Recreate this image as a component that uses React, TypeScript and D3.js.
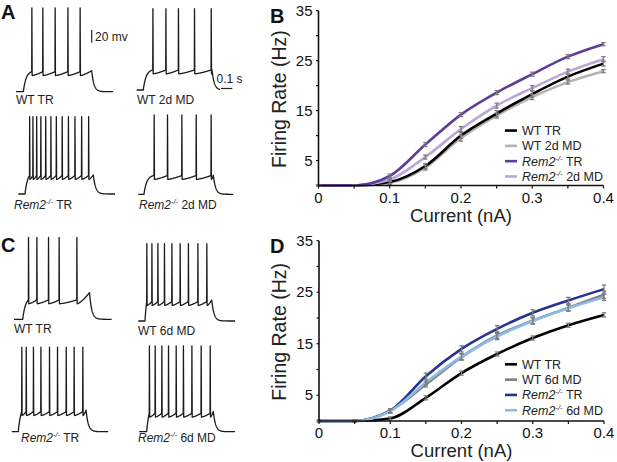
import * as d3 from "d3";
import React from "react";

const FONT = "'Liberation Sans', Arial, Helvetica, sans-serif";

// ---- F-I curves (panels B, D) ----
const currents = [0, 0.05, 0.1, 0.15, 0.2, 0.25, 0.3, 0.35, 0.4];
const xTickLabels = [0, 0.1, 0.2, 0.3, 0.4];
const xTickMarks = [0, 0.05, 0.1, 0.15, 0.2, 0.25, 0.3, 0.35, 0.4];
const yTickLabels = [5, 15, 25, 35];
const yTickMarks = [5, 10, 15, 20, 25, 30, 35];

const bWtTr = [0, 0, 0.7, 3.9, 10.0, 14.4, 18.3, 21.8, 24.4];
const bWt2d = [0, 0, 0.5, 3.6, 9.5, 14.0, 17.7, 20.7, 22.9];
const bRemTr = [0, 0, 1.9, 8.2, 14.2, 18.6, 22.3, 25.8, 28.3];
const bRem2d = [0, 0, 1.2, 5.7, 11.3, 16.0, 19.5, 22.8, 25.3];
const bWtTrSem = [0.1, 0.1, 0.4, 0.5, 0.6, 0.6, 0.6, 0.5, 0.5];
const bWt2dSem = [0.1, 0.1, 0.3, 0.5, 0.6, 0.5, 0.5, 0.4, 0.3];
const bRemTrSem = [0.1, 0.1, 0.4, 0.4, 0.4, 0.4, 0.4, 0.4, 0.3];
const bRem2dSem = [0.1, 0.1, 0.3, 0.4, 0.5, 0.5, 0.5, 0.5, 0.5];

const dWtTr = [0, 0, 0.5, 4.5, 9.3, 13.0, 16.1, 18.6, 20.6];
const dWt6d = [0, 0, 2.0, 7.1, 12.4, 16.6, 19.5, 22.0, 24.5];
const dRemTr = [0, 0, 2.0, 8.7, 14.0, 17.9, 21.0, 23.4, 25.6];
const dRem6d = [0, 0, 1.9, 7.5, 12.5, 16.4, 19.4, 21.9, 24.0];
const dWtTrSem = [0.1, 0.1, 0.3, 0.4, 0.4, 0.4, 0.4, 0.4, 0.4];
const dWt6dSem = [0.1, 0.1, 0.4, 0.5, 0.6, 0.6, 0.6, 0.6, 0.7];
const dRemTrSem = [0.1, 0.1, 0.4, 0.6, 0.6, 0.6, 0.6, 0.6, 0.8];
const dRem6dSem = [0.1, 0.1, 0.4, 0.5, 0.6, 0.6, 0.6, 0.6, 0.6];

// ---- voltage traces (panels A, C): times in ms, voltages in mV ----
type Trace = {
  on: number; off: number; end: number;
  spikes: number[]; thr: number; peak: number; endV: number;
};
const BASE_MV = -70;

const aWtTrSpikes = [139, 236, 345, 458, 566];
const aWt2dSpikes = [142, 257, 368, 510, 658];
const aRemTrSpikes = [99, 128, 161, 198, 241, 287, 335, 387, 442, 500, 559, 621];
const aRem2dSpikes = [139, 257, 384, 511, 643];
const cWtTrSpikes = [127, 201, 304, 398, 555];
const cWt6dSpikes = [74, 119, 172, 230, 296, 369, 442, 526, 605];
const cRemTrSpikes = [88, 127, 191, 257, 333, 404, 481, 551, 628];
const cRem6dSpikes = [88, 139, 198, 257, 325, 389, 464, 546, 626];

const aTraces: Trace[] = [
  { on: 65, off: 670, end: 858, spikes: aWtTrSpikes, thr: -38.5, peak: 62, endV: -37 },
  { on: 58, off: 666, end: 738, spikes: aWt2dSpikes, thr: -38.5, peak: 58, endV: -38 },
  { on: 59, off: 664, end: 856, spikes: aRemTrSpikes, thr: -41, peak: 52, endV: -40 },
  { on: 50, off: 664, end: 841, spikes: aRem2dSpikes, thr: -40.5, peak: 55, endV: -40 },
];
const cTraces: Trace[] = [
  { on: 77, off: 668, end: 865, spikes: cWtTrSpikes, thr: -39.5, peak: 59, endV: -28 },
  { on: 59, off: 650, end: 856, spikes: cWt6dSpikes, thr: -39.5, peak: 52, endV: -37 },
  { on: 58, off: 658, end: 855, spikes: cRemTrSpikes, thr: -38.5, peak: 63, endV: -36 },
  { on: 65, off: 655, end: 847, spikes: cRem6dSpikes, thr: -41, peak: 65, endV: -38 },
];
// where each trace sits (left edge, baseline)
const aPlace = [[16, 91.7], [136.7, 90], [18.3, 194], [138.3, 194.3]];
const cPlace = [[14, 319.3], [138.3, 321], [11.7, 431.7], [139.3, 431.7]];
const PX_PER_MS = 0.113;
const PX_PER_MV = 0.635;

function tracePoints(tr: Trace): [number, number][] {
  const pts: [number, number][] = [[0, BASE_MV], [tr.on, BASE_MV]];
  const dt = 2;
  const tauR = 25;
  const tauD = 20;
  const trough = tr.thr - 6;
  const s0 = tr.spikes[0];
  const norm = 1 - Math.exp(-(s0 - tr.on) / tauR);
  for (let t = tr.on + dt; t < s0; t += dt) {
    pts.push([t, BASE_MV + ((tr.thr - BASE_MV) * (1 - Math.exp(-(t - tr.on) / tauR))) / norm]);
  }
  let vOff = tr.endV;
  tr.spikes.forEach((s, i) => {
    const last = i === tr.spikes.length - 1;
    const next = last ? tr.off : tr.spikes[i + 1];
    const target = last ? tr.endV : tr.thr;
    pts.push([s, tr.thr], [s + 1.5, tr.peak], [s + 4, trough]);
    for (let t = s + 4 + dt; t < next; t += dt) {
      const u = (t - s - 4) / (next - s - 4);
      pts.push([t, trough + (target - trough) * Math.pow(u, 1.4)]);
    }
    if (last) pts.push([tr.off, target]);
    vOff = target;
  });
  for (let t = tr.off + dt; t <= tr.end; t += dt) {
    pts.push([t, BASE_MV + (vOff - BASE_MV) * Math.exp(-(t - tr.off) / tauD)]);
  }
  return pts;
}

function TracePath({ tr, x0, y0 }: { tr: Trace; x0: number; y0: number }) {
  const x = d3.scaleLinear().domain([0, 1]).range([x0, x0 + PX_PER_MS]);
  const y = d3.scaleLinear().domain([BASE_MV, BASE_MV + 1]).range([y0, y0 - PX_PER_MV]);
  const line = d3.line<[number, number]>().x((d) => x(d[0])).y((d) => y(d[1]));
  return <path d={line(tracePoints(tr)) ?? ""} fill="none" stroke="#1a1a1a" strokeWidth={1.3} strokeLinejoin="round" />;
}

function RemLabel({ x, y, suffix, size = 12 }: { x: number; y: number; suffix: string; size?: number }) {
  return (
    <text x={x} y={y} fontSize={size} fontFamily={FONT} fill="#222">
      <tspan fontStyle="italic">Rem2</tspan>
      <tspan fontStyle="italic" fontSize={size * 0.62} dy={-size * 0.4}>-/-</tspan>
      <tspan dy={size * 0.4}>{" " + suffix}</tspan>
    </text>
  );
}

type Series = { values: number[]; sem: number[]; color: string; label: string; rem: boolean };

function FIChart({ top, bottom, left, right, series, legend, letter, letterY }: {
  top: number; bottom: number; left: number; right: number;
  series: Series[]; legend: Series[]; letter: string; letterY: number;
}) {
  const x = d3.scaleLinear().domain([0, 0.4]).range([left, right]);
  const y = d3.scaleLinear().domain([0, 35]).range([bottom, top]);
  const line = d3
    .line<number>()
    .x((_, i) => x(currents[i]))
    .y((d) => y(d))
    .curve(d3.curveMonotoneX);
  const legendX = 505;
  const legendY0 = y(11.0);
  const legendStep = 15.3;
  return (
    <g fontFamily={FONT}>
      <text x={270} y={letterY} fontSize={20} fontWeight="bold" fill="#111">
        {letter}
      </text>
      {series.map((s) => (
        <path key={s.label + s.color} d={line(s.values) ?? ""} fill="none" stroke={s.color} strokeWidth={2.6} />
      ))}
      {series.map((s) =>
        s.values.map((v, i) => {
          const cx = x(currents[i]);
          const e = Math.max(s.sem[i], 0.15);
          return (
            <g key={s.color + i} stroke="#7d7d7d" strokeWidth={1.3}>
              <line x1={cx} x2={cx} y1={y(v - e)} y2={y(v + e)} />
              <line x1={cx - 2.2} x2={cx + 2.2} y1={y(v - e)} y2={y(v - e)} />
              <line x1={cx - 2.2} x2={cx + 2.2} y1={y(v + e)} y2={y(v + e)} />
            </g>
          );
        })
      )}
      <line x1={left} x2={left} y1={top} y2={bottom} stroke="#111" strokeWidth={1.6} />
      <line x1={left} x2={right} y1={bottom} y2={bottom} stroke="#111" strokeWidth={1.6} />
      {yTickMarks.map((t) => (
        <line key={"yt" + t} x1={left - 2.5} x2={left} y1={y(t)} y2={y(t)} stroke="#111" strokeWidth={1.2} />
      ))}
      {yTickLabels.map((t) => (
        <text key={"yl" + t} x={left - 6} y={y(t) + 5} fontSize={15} textAnchor="end" fill="#111">
          {t}
        </text>
      ))}
      {xTickMarks.map((t) => (
        <line key={"xt" + t} x1={x(t)} x2={x(t)} y1={bottom} y2={bottom + 3} stroke="#111" strokeWidth={1.2} />
      ))}
      {xTickLabels.map((t) => (
        <text key={"xl" + t} x={x(t)} y={bottom + 17} fontSize={15} textAnchor="middle" fill="#111">
          {t}
        </text>
      ))}
      <text x={(left + right) / 2} y={bottom + 36} fontSize={18.5} textAnchor="middle" fill="#222">
        Current (nA)
      </text>
      <text
        transform={`translate(${left - 33},${(top + bottom) / 2 + 1}) rotate(-90)`}
        fontSize={19.5}
        textAnchor="middle"
        fill="#222"
      >
        Firing Rate (Hz)
      </text>
      {legend.map((s, i) => (
        <g key={"lg" + i}>
          <line
            x1={legendX}
            x2={legendX + 12}
            y1={legendY0 + i * legendStep}
            y2={legendY0 + i * legendStep}
            stroke={s.color}
            strokeWidth={2.6}
          />
          {s.rem ? (
            <RemLabel x={legendX + 17} y={legendY0 + i * legendStep + 4.5} suffix={s.label} size={12.5} />
          ) : (
            <text x={legendX + 17} y={legendY0 + i * legendStep + 4.5} fontSize={12.5} fill="#222">
              {s.label}
            </text>
          )}
        </g>
      ))}
    </g>
  );
}

export default function App() {
  const bWtTrS: Series = { values: bWtTr, sem: bWtTrSem, color: "#000000", label: "WT TR", rem: false };
  const bWt2dS: Series = { values: bWt2d, sem: bWt2dSem, color: "#b3b3b3", label: "WT 2d MD", rem: false };
  const bRemTrS: Series = { values: bRemTr, sem: bRemTrSem, color: "#5e3c99", label: "TR", rem: true };
  const bRem2dS: Series = { values: bRem2d, sem: bRem2dSem, color: "#b9a7d8", label: "2d MD", rem: true };
  const dWtTrS: Series = { values: dWtTr, sem: dWtTrSem, color: "#000000", label: "WT TR", rem: false };
  const dWt6dS: Series = { values: dWt6d, sem: dWt6dSem, color: "#7f7f7f", label: "WT 6d MD", rem: false };
  const dRemTrS: Series = { values: dRemTr, sem: dRemTrSem, color: "#26338f", label: "TR", rem: true };
  const dRem6dS: Series = { values: dRem6d, sem: dRem6dSem, color: "#8dbbe6", label: "6d MD", rem: true };
  return (
    <div style={{ position: "fixed", left: 0, top: 0 }}>
      <svg width={617} height={462} style={{ display: "block", background: "#fff" }}>
        {/* Panel A */}
        <text x={1} y={19} fontSize={20} fontWeight="bold" fontFamily={FONT} fill="#111">A</text>
        {aTraces.map((tr, i) => (
          <TracePath key={"a" + i} tr={tr} x0={aPlace[i][0]} y0={aPlace[i][1]} />
        ))}
        <line x1={91.7} x2={91.7} y1={30} y2={30 + 20 * PX_PER_MV} stroke="#222" strokeWidth={1.2} />
        <text x={95} y={40.5} fontSize={12} fontFamily={FONT} fill="#222">20 mv</text>
        <line x1={221} x2={221 + 100 * PX_PER_MS} y1={88.5} y2={88.5} stroke="#222" strokeWidth={1.2} />
        <text x={216.5} y={83} fontSize={12} fontFamily={FONT} fill="#222">0.1 s</text>
        <text x={16} y={104} fontSize={12} fontFamily={FONT} fill="#222">WT TR</text>
        <text x={137} y={104} fontSize={12} fontFamily={FONT} fill="#222">WT 2d MD</text>
        <RemLabel x={14} y={209} suffix="TR" />
        <RemLabel x={139} y={209} suffix="2d MD" />

        {/* Panel C */}
        <text x={1} y={252} fontSize={20} fontWeight="bold" fontFamily={FONT} fill="#111">C</text>
        {cTraces.map((tr, i) => (
          <TracePath key={"c" + i} tr={tr} x0={cPlace[i][0]} y0={cPlace[i][1]} />
        ))}
        <text x={14} y={333} fontSize={12} fontFamily={FONT} fill="#222">WT TR</text>
        <text x={138} y={335} fontSize={12} fontFamily={FONT} fill="#222">WT 6d MD</text>
        <RemLabel x={21} y={442} suffix="TR" />
        <RemLabel x={138} y={442} suffix="6d MD" />

        <FIChart
          top={10.7} bottom={185.5} left={318.5} right={603.5}
          series={[bWt2dS, bWtTrS, bRem2dS, bRemTrS]}
          legend={[bWtTrS, bWt2dS, bRemTrS, bRem2dS]}
          letter="B" letterY={23}
        />
        <FIChart
          top={240.7} bottom={421} left={319} right={604}
          series={[dWtTrS, dWt6dS, dRemTrS, dRem6dS]}
          legend={[dWtTrS, dWt6dS, dRemTrS, dRem6dS]}
          letter="D" letterY={253}
        />
      </svg>
    </div>
  );
}
